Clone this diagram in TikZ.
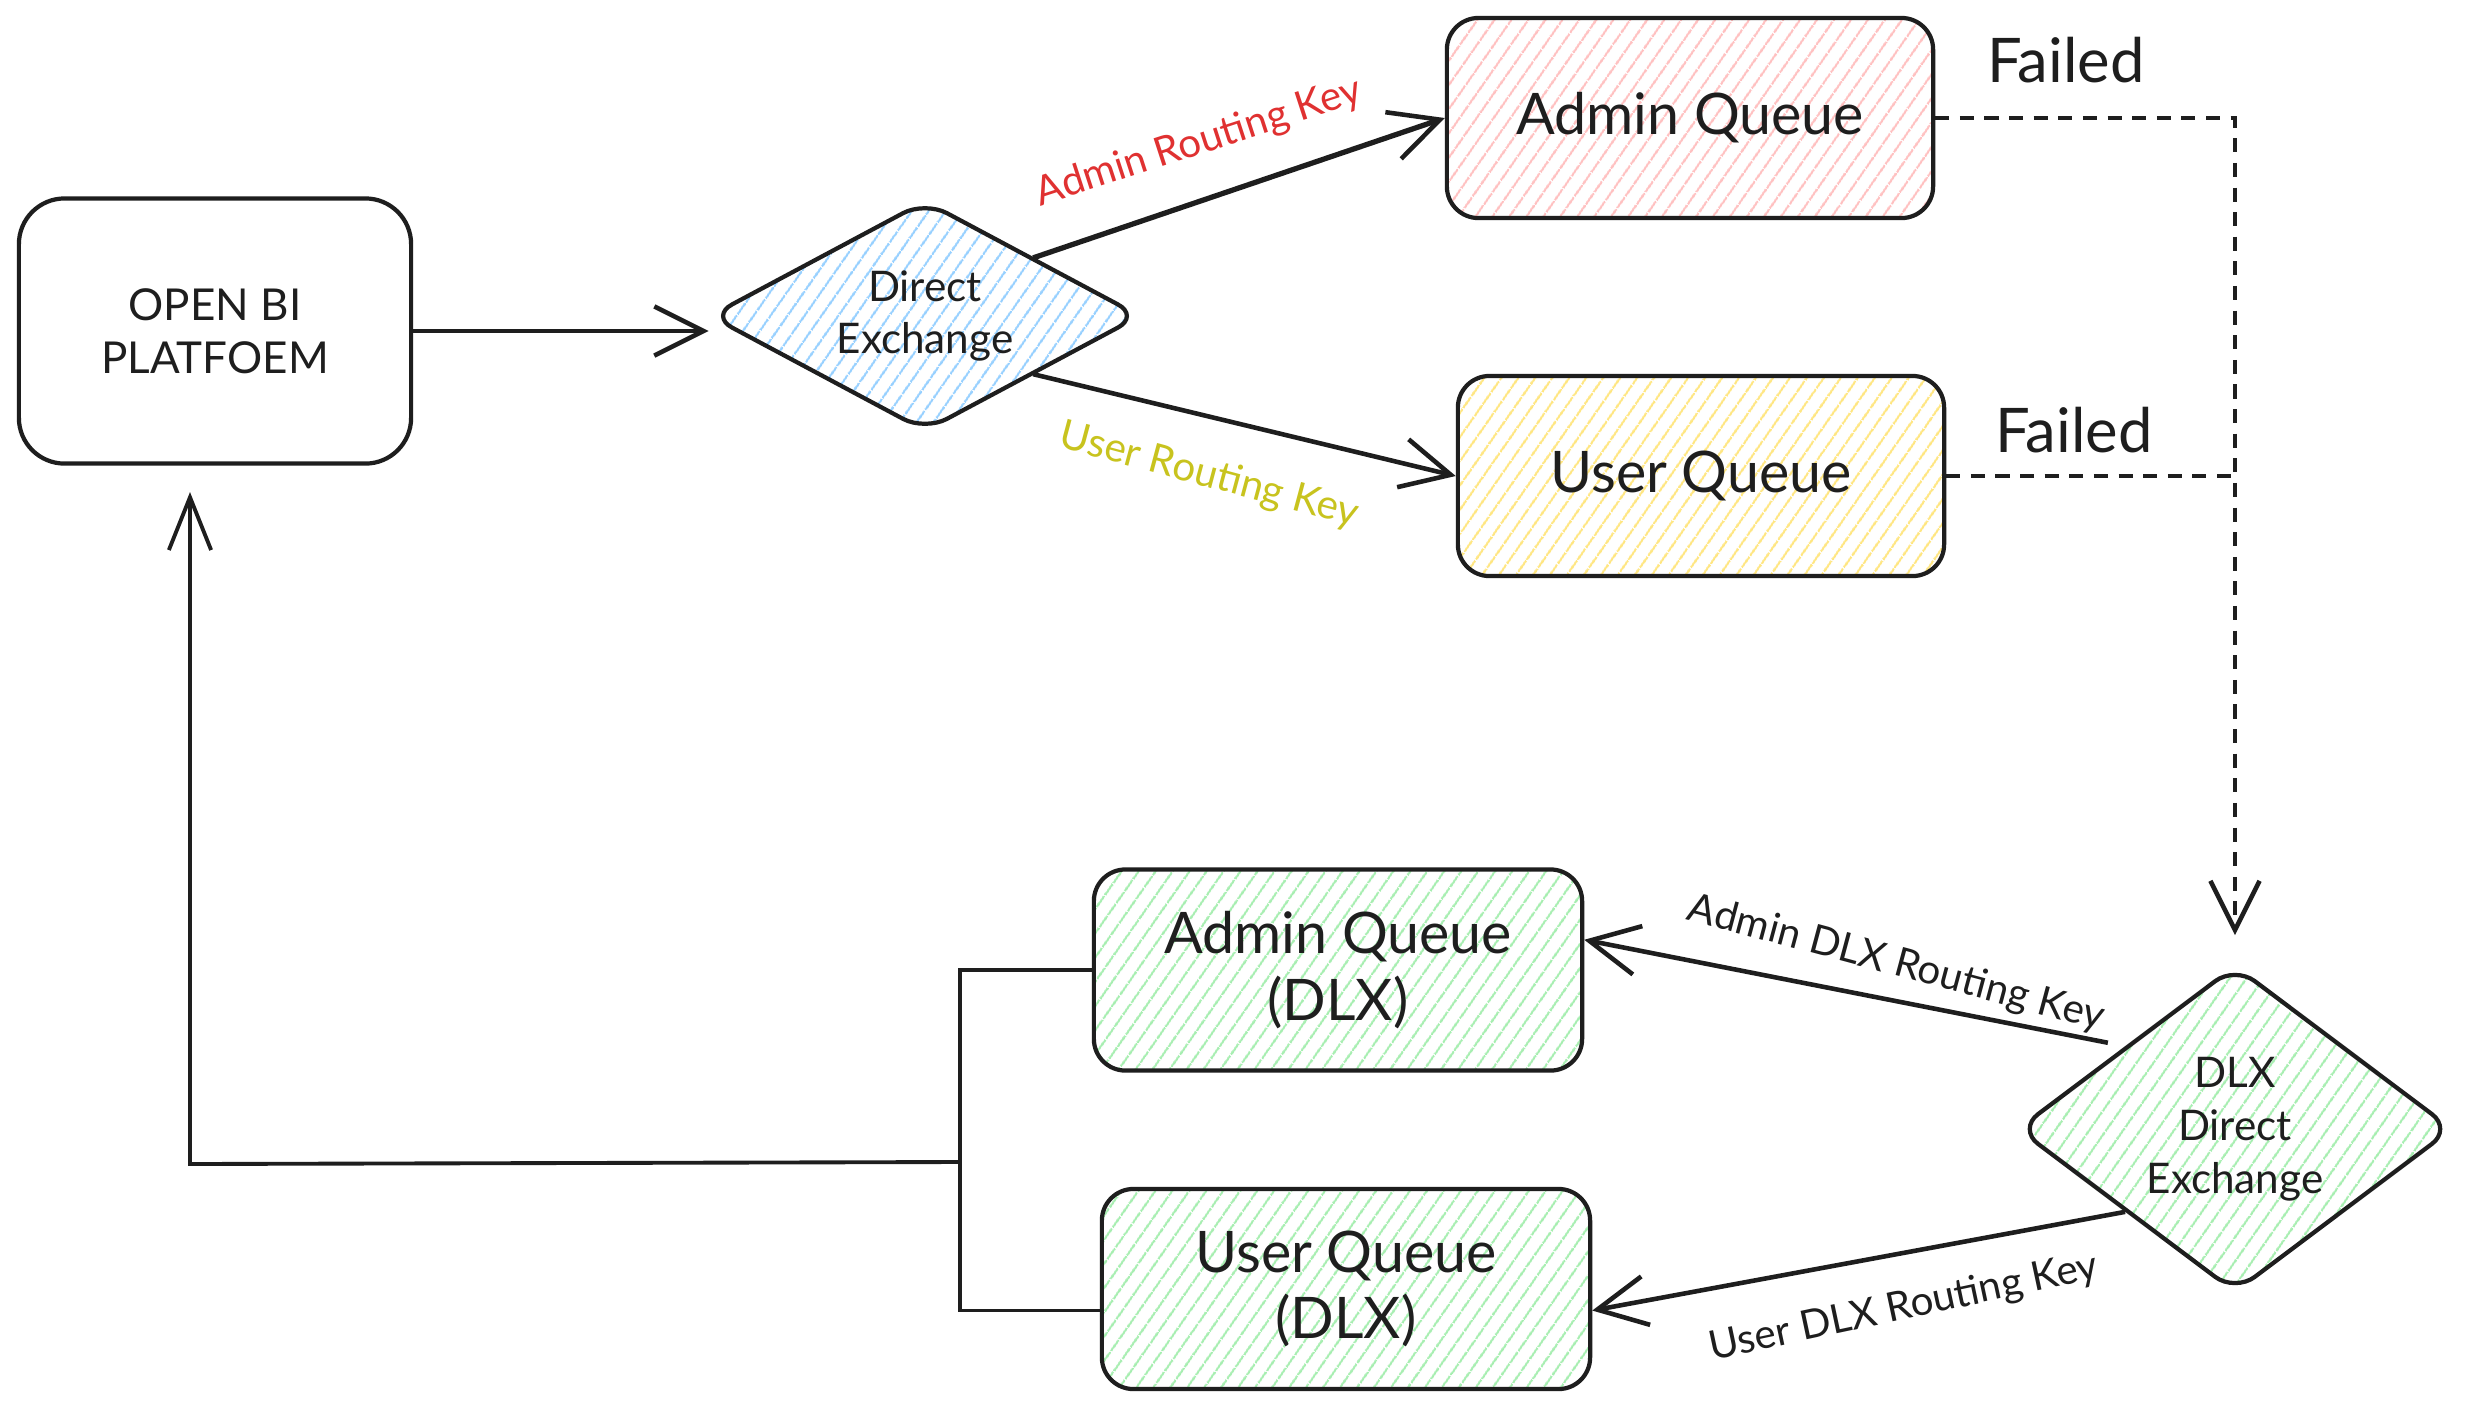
\documentclass[tikz,border=0pt]{standalone}
\usepackage{fontspec}
\setmainfont{Lato}
\usetikzlibrary{shapes.geometric,arrows.meta,patterns.meta}
\definecolor{ink}{HTML}{1E1E1E}
\definecolor{hred}{HTML}{FFC0C0}
\definecolor{hyellow}{HTML}{FFE680}
\definecolor{hblue}{HTML}{96D0FF}
\definecolor{hgreen}{HTML}{A6EEB0}
\definecolor{tred}{HTML}{E03131}
\definecolor{tyellow}{RGB}{200,195,30}
\tikzset{
  box/.style={draw=ink, line width=1.2pt, rounded corners=9pt, minimum width=4.86cm, minimum height=2cm, inner sep=0pt, align=center, text=ink},
  rhomb/.style={diamond, draw=ink, line width=1.2pt, rounded corners=7pt, inner sep=0pt, align=center, text=ink, font=\fontsize{12}{15}\selectfont},
  hatch/.style={pattern={Lines[angle=55,distance=4pt,line width=0.7pt]}, pattern color=#1},
  tip/.style={-{Straight Barb[length=14pt,width=14pt,line width=1.3pt]}},
  arr/.style={draw=ink, line width=1.3pt, tip},
  plain/.style={draw=ink, line width=1.1pt},
  dash line/.style={draw=ink, line width=1.4pt, dash pattern=on 4pt off 3pt},
  big/.style={font=\fontsize{16.3}{19}\selectfont},
  lbl/.style={font=\fontsize{11.5}{14}\selectfont, inner sep=0pt},
}
\begin{document}
\begin{tikzpicture}[x=0.01cm,y=-0.01cm]
\useasboundingbox[fill=white] (0,0) rectangle (2480,1408);

% nodes
\node[box, minimum width=3.92cm, minimum height=2.65cm, rounded corners=13pt, font=\fontsize{12.5}{15}\selectfont] (open) at (215,331) {OPEN BI\\PLATFOEM};
\node[rhomb, hatch=hblue, aspect=1.87, minimum width=4.3cm, minimum height=2.3cm] (de) at (925,316) {Direct\\Exchange};
\node[box, hatch=hred, big] (aq) at (1690,118) {Admin Queue};
\node[box, hatch=hyellow, big] (uq) at (1701,476) {User Queue};
\node[box, hatch=hgreen, big, minimum width=4.88cm, minimum height=2.01cm] (aqd) at (1338,970) {Admin Queue\\(DLX)};
\node[box, hatch=hgreen, big, minimum width=4.88cm] (uqd) at (1346,1289) {User Queue\\(DLX)};
\node[rhomb, hatch=hgreen, aspect=1.34, minimum width=4.35cm, minimum height=3.27cm] (dlx) at (2235,1129) {DLX\\Direct\\Exchange};

\node[text=ink, font=\fontsize{17.5}{20}\selectfont, inner sep=0pt] (f1) at (2066,60) {Failed};
\node[text=ink, font=\fontsize{17.5}{20}\selectfont, inner sep=0pt] (f2) at (2074,430) {Failed};

% connectors
\draw[arr] (open.east) -- (open.east -| de.west);
\draw[arr, line width=1.5pt] (de.north east) -- (aq.west);
\draw[arr] (de.south east) -- (uq.west);
\draw[dash line, tip, shorten >=8pt] (aq.east) -| (dlx.north);
\draw[dash line] (uq.east) -- (uq.east -| dlx.north);
\draw[arr, shorten <=5pt] (dlx.north west) -- (aqd.7);
\draw[arr] (dlx.south west) -- (uqd.-5);

\coordinate (jn) at (960,1162);
\coordinate (up) at (190,1164);
\draw[plain] (aqd.west) -| (jn) |- (uqd.185);
\draw[plain, -{Straight Barb[length=15pt,width=12pt,line width=1.1pt]}, shorten >=7.5pt] (jn) -- (up) -- (up |- open.south);

% labels
\node[lbl, text=tred, rotate=18] (l1) at (1199,143) {Admin Routing Key};
\node[lbl, text=tyellow, rotate=-15] (l2) at (1209,476) {User Routing Key};
\node[lbl, text=ink, rotate=-15] (l3) at (1896,964) {Admin DLX Routing Key};
\node[lbl, text=ink, rotate=12] (l4) at (1904,1308) {User DLX Routing Key};
\end{tikzpicture}
\end{document}
